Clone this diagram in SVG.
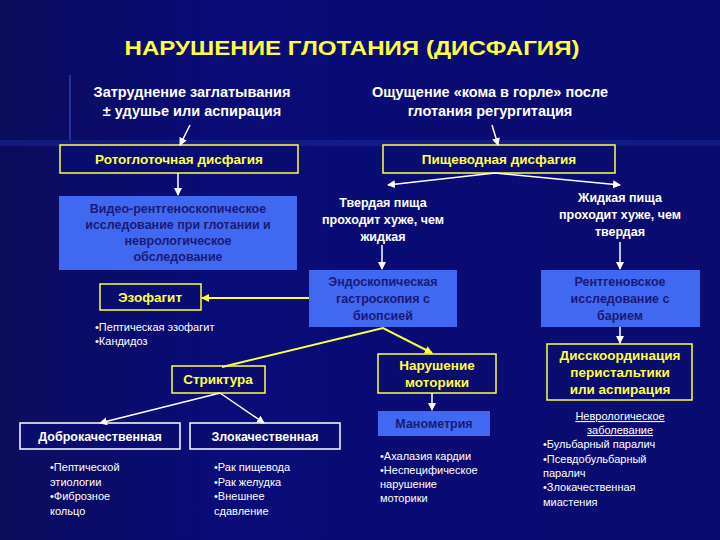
<svg xmlns="http://www.w3.org/2000/svg" width="720" height="540" viewBox="0 0 720 540">
<defs>
<linearGradient id="bg" x1="0" y1="0" x2="1" y2="0"><stop offset="0" stop-color="#0c0c5c"/><stop offset="0.3" stop-color="#0a0c78"/><stop offset="1" stop-color="#0a0c70"/></linearGradient>
<marker id="aw" markerWidth="8" markerHeight="8" refX="7" refY="4" orient="auto" markerUnits="userSpaceOnUse"><path d="M0,0 L8,4 L0,8 z" fill="#fff"/></marker>
<marker id="ay" markerWidth="8" markerHeight="8" refX="7" refY="4" orient="auto" markerUnits="userSpaceOnUse"><path d="M0,0 L8,4 L0,8 z" fill="#ffff40"/></marker>
<style>
text{font-family:"Liberation Sans",Arial,sans-serif;font-weight:bold;text-anchor:middle}
.t{fill:#ffff40;font-size:21px}
.w{fill:#fff;font-size:14.5px}
.w13{fill:#fff;font-size:12.5px}
.y{fill:#ffff40;font-size:13.5px}
.d{fill:#1a1a78;font-size:12.5px}
.s{fill:#fff;font-size:11px;font-weight:normal;text-anchor:start}
.yb{fill:#0a0c70;stroke:#ffff40;stroke-width:1.5}
.wb{fill:#0a0c70;stroke:#fff;stroke-width:1.5}
.lb{fill:#4068f0}
.cw{stroke:#fff;stroke-width:1.5;fill:none;marker-end:url(#aw)}
.cy{stroke:#ffff40;stroke-width:2;fill:none;marker-end:url(#ay)}
</style>
</defs>
<rect width="720" height="540" fill="url(#bg)"/>
<rect x="0" y="140" width="720" height="6" fill="#1a2a9a" opacity="0.5"/>
<line x1="70" y1="75" x2="70" y2="140" stroke="#3050c0" stroke-width="2" opacity="0.6"/>
<text class="t" x="352" y="55" textLength="455" lengthAdjust="spacingAndGlyphs">НАРУШЕНИЕ ГЛОТАНИЯ (ДИСФАГИЯ)</text>
<g id="n-oro-sym"><text class="w" x="192" y="97">Затруднение  заглатывания</text><text class="w" x="192" y="116">± удушье или аспирация</text></g>
<g id="n-eso-sym"><text class="w" x="490" y="97">Ощущение «кома в горле» после</text><text class="w" x="490" y="116">глотания регургитация</text></g>
<g id="n-oro"><rect class="yb" x="60" y="145" width="238" height="28"/><text class="y" x="179" y="164">Ротоглоточная дисфагия</text></g>
<g id="n-eso"><rect class="yb" x="383" y="145" width="232" height="28"/><text class="y" x="499" y="164">Пищеводная дисфагия</text></g>
<g id="n-video"><rect class="lb" x="59" y="196" width="238" height="74"/><text class="d" x="178" y="213">Видео-рентгеноскопическое</text><text class="d" x="178" y="229">исследование при глотании и</text><text class="d" x="178" y="245">неврологическое</text><text class="d" x="178" y="261">обследование</text></g>
<g id="n-solid"><text class="w13" x="383" y="207">Твердая пища</text><text class="w13" x="383" y="224">проходит хуже, чем</text><text class="w13" x="383" y="241">жидкая</text></g>
<g id="n-liquid"><text class="w13" x="620" y="202">Жидкая пища</text><text class="w13" x="620" y="219">проходит хуже, чем</text><text class="w13" x="620" y="236">твердая</text></g>
<g id="n-endo"><rect class="lb" x="309" y="270" width="148" height="57"/><text class="d" x="383" y="286">Эндоскопическая</text><text class="d" x="383" y="303">гастроскопия с</text><text class="d" x="383" y="320">биопсией</text></g>
<g id="n-rtg"><rect class="lb" x="541" y="270" width="159" height="57"/><text class="d" x="620" y="286">Рентгеновское</text><text class="d" x="620" y="303">исследование с</text><text class="d" x="620" y="320">барием</text></g>
<g id="n-ezo"><rect class="yb" x="100" y="284" width="101" height="26"/><text class="y" x="150" y="302">Эзофагит</text>
<text class="s" x="95" y="331">•Пептическая эзофагит</text><text class="s" x="95" y="345">•Кандидоз</text></g>
<g id="n-strik"><rect class="yb" x="172" y="366" width="93" height="27"/><text class="y" x="218" y="384">Стриктура</text></g>
<g id="n-motor"><rect class="yb" x="378" y="354" width="118" height="39"/><text class="y" x="437" y="370">Нарушение</text><text class="y" x="437" y="387">моторики</text></g>
<g id="n-mano"><rect class="lb" x="378" y="411" width="112" height="25"/><text class="d" x="434" y="428">Манометрия</text>
<text class="s" x="380" y="460">•Ахалазия кардии</text><text class="s" x="380" y="474">•Неспецифическое</text><text class="s" x="380" y="488">нарушение</text><text class="s" x="380" y="502">моторики</text></g>
<g id="n-disk"><rect class="yb" x="547" y="344" width="145" height="56"/><text class="y" x="620" y="360">Дисскоординация</text><text class="y" x="620" y="377">перистальтики</text><text class="y" x="620" y="394">или аспирация</text></g>
<g id="n-nevro"><text class="s" x="620" y="420" style="text-anchor:middle;text-decoration:underline">Неврологическое</text><text class="s" x="620" y="434" style="text-anchor:middle;text-decoration:underline">заболевание</text>
<text class="s" x="543" y="448">•Бульбарный паралич</text><text class="s" x="543" y="463">•Псевдобульбарный</text><text class="s" x="543" y="477">паралич</text><text class="s" x="543" y="491">•Злокачественная</text><text class="s" x="543" y="506">миастения</text></g>
<g id="n-dobro"><rect class="wb" x="20" y="423" width="160" height="26"/><text class="w13" x="100" y="441">Доброкачественная</text>
<text class="s" x="50" y="471">•Пептической</text><text class="s" x="50" y="486">этиологии</text><text class="s" x="50" y="500">•Фиброзное</text><text class="s" x="50" y="515">кольцо</text></g>
<g id="n-zlo"><rect class="wb" x="190" y="423" width="150" height="26"/><text class="w13" x="265" y="441">Злокачественная</text>
<text class="s" x="214" y="471">•Рак пищевода</text><text class="s" x="214" y="486">•Рак желудка</text><text class="s" x="214" y="500">•Внешнее</text><text class="s" x="214" y="515">сдавление</text></g>
<g id="connectors">
<path class="cw" d="M190,125 L180,145"/>
<path class="cw" d="M492,125 L498,145"/>
<path class="cw" d="M178,173 L178,195"/>
<path class="cw" d="M495,173 L388,185"/>
<path class="cw" d="M495,173 L620,185"/>
<path class="cw" d="M382,245 L382,269"/>
<path class="cw" d="M620,242 L620,269"/>
<path class="cw" d="M620,327 L620,343"/>
<path class="cw" d="M432,393 L432,410"/>
<path class="cw" d="M220,393 L100,423"/>
<path class="cw" d="M220,393 L264,423"/>
<path class="cy" d="M309,298 L202,298"/>
<path class="cy" d="M222,367 L383,328 L432,353"/>
</g>
</svg>
